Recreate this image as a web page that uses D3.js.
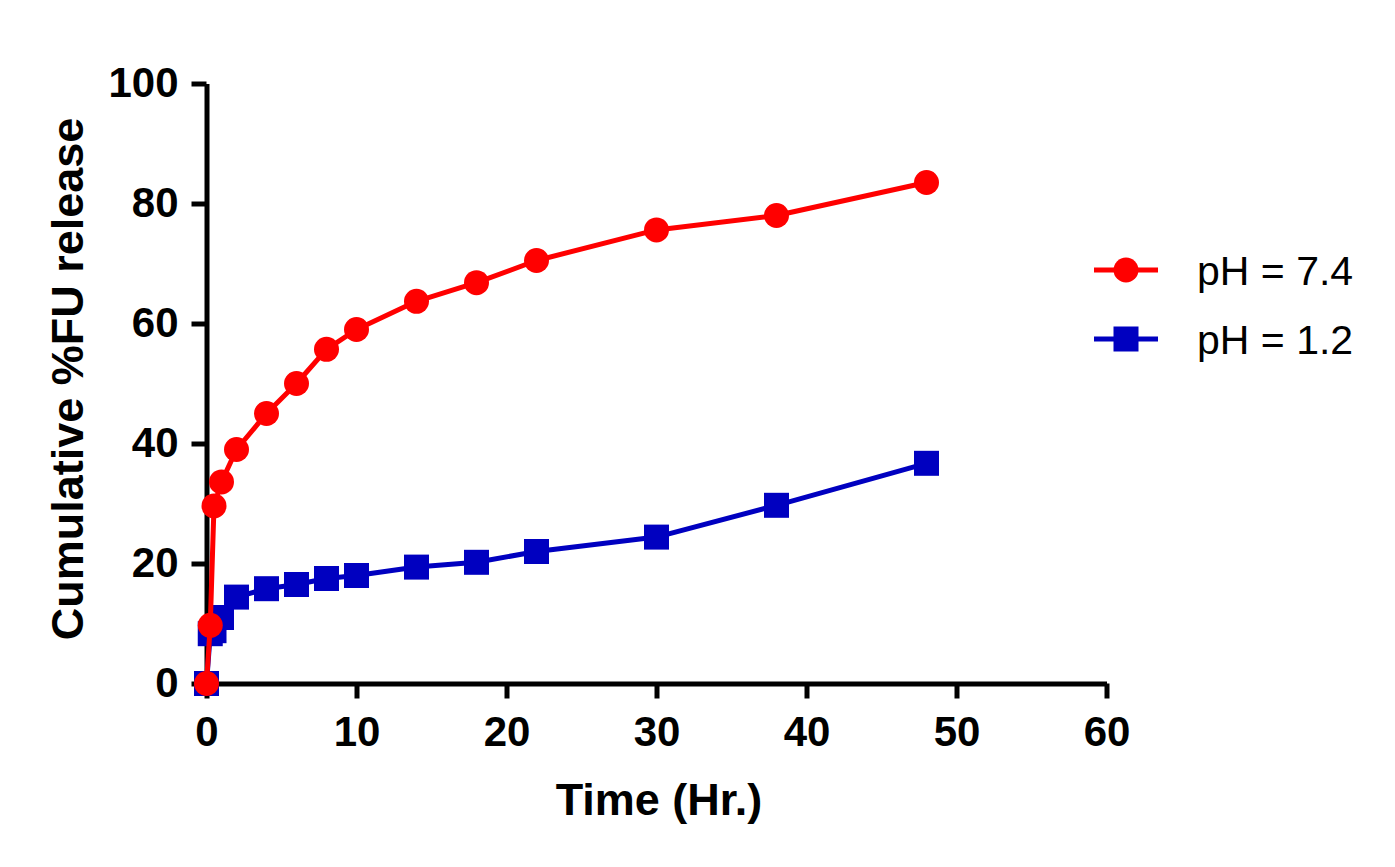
<!DOCTYPE html>
<html>
<head>
<meta charset="utf-8">
<script src="https://cdn.jsdelivr.net/npm/d3@7"></script>
<style>
  body { margin: 0; background: #fff; }
  svg { display: block; font-family: "Liberation Sans", Arial, sans-serif; }
</style>
</head>
<body>
<svg id="chart" width="1395" height="867"></svg>
<script>
// Cumulative release curves at two pH values

const timesRed = [0, 0.25, 0.5, 1, 2, 4, 6, 8, 10, 14, 18, 22, 30, 38, 48];
const releaseRed = [0, 9.7, 29.6, 33.6, 39.0, 45.0, 50.0, 55.7, 59.0, 63.7, 66.8, 70.5, 75.6, 78.0, 83.5];

const timesBlue = [0, 0.25, 0.5, 1, 2, 4, 6, 8, 10, 14, 18, 22, 30, 38, 48];
const releaseBlue = [0, 8.3, 8.8, 11.0, 14.4, 15.8, 16.5, 17.5, 18.0, 19.4, 20.2, 22.0, 24.4, 29.7, 36.7];

const xTicks = [0, 10, 20, 30, 40, 50, 60];
const yTicks = [0, 20, 40, 60, 80, 100];
const legendLabels = ['pH = 7.4', 'pH = 1.2'];

const RED = '#ff0000';
const BLUE = '#0000c0';

const svg = d3.select('#chart');

const x = d3.scaleLinear().domain([0, 60]).range([206.5, 1106.5]);
const y = d3.scaleLinear().domain([0, 100]).range([683.5, 83.5]);

// X axis
const xAxis = svg.append('g')
  .attr('transform', `translate(0,${y(0)})`)
  .call(d3.axisBottom(x).tickValues(xTicks).tickSize(15).tickSizeOuter(0).tickPadding(18));

// Y axis
const yAxis = svg.append('g')
  .attr('transform', `translate(${x(0)},0)`)
  .call(d3.axisLeft(y).tickValues(yTicks).tickSize(15).tickSizeOuter(0).tickPadding(13));

[xAxis, yAxis].forEach(ax => {
  ax.select('.domain').attr('stroke', '#000').attr('stroke-width', 5);
  ax.selectAll('.tick line').attr('stroke', '#000').attr('stroke-width', 5);
  ax.selectAll('.tick text')
    .attr('fill', '#000')
    .style('font-size', '42px')
    .style('font-weight', 'bold')
    .style('font-family', '"Liberation Sans", Arial, sans-serif');
});

// Axis titles
svg.append('text')
  .attr('x', 659)
  .attr('y', 815)
  .attr('text-anchor', 'middle')
  .style('font-size', '45px')
  .style('font-weight', 'bold')
  .text('Time (Hr.)');

svg.append('text')
  .attr('transform', 'translate(83,379) rotate(-90)')
  .attr('text-anchor', 'middle')
  .style('font-size', '45px')
  .style('font-weight', 'bold')
  .text('Cumulative %FU release');

const line = d3.line();

function drawSeries(times, values, color, shape) {
  const pts = times.map((t, i) => [x(t), y(values[i])]);
  svg.append('path')
    .attr('d', line(pts))
    .attr('fill', 'none')
    .attr('stroke', color)
    .attr('stroke-width', 5)
    .attr('stroke-linejoin', 'round');

  pts.forEach(p => {
    if (shape === 'circle') {
      svg.append('circle')
        .attr('cx', p[0]).attr('cy', p[1]).attr('r', 12.5)
        .attr('fill', color);
    } else {
      svg.append('rect')
        .attr('x', p[0] - 12.5).attr('y', p[1] - 12.5)
        .attr('width', 25).attr('height', 25)
        .attr('fill', color);
    }
  });
}

drawSeries(timesBlue, releaseBlue, BLUE, 'square');
drawSeries(timesRed, releaseRed, RED, 'circle');

// Legend
const legend = [
  { label: legendLabels[0], color: RED, shape: 'circle', cy: 270 },
  { label: legendLabels[1], color: BLUE, shape: 'square', cy: 339 }
];

legend.forEach(d => {
  const g = svg.append('g');
  g.append('line')
    .attr('x1', 1094).attr('x2', 1158)
    .attr('y1', d.cy).attr('y2', d.cy)
    .attr('stroke', d.color).attr('stroke-width', 5);
  if (d.shape === 'circle') {
    g.append('circle').attr('cx', 1126).attr('cy', d.cy).attr('r', 12.5).attr('fill', d.color);
  } else {
    g.append('rect').attr('x', 1126 - 12.5).attr('y', d.cy - 12.5)
      .attr('width', 25).attr('height', 25).attr('fill', d.color);
  }
  g.append('text')
    .attr('x', 1197)
    .attr('y', d.cy + 15)
    .style('font-size', '41px')
    .text(d.label);
});
</script>
</body>
</html>
